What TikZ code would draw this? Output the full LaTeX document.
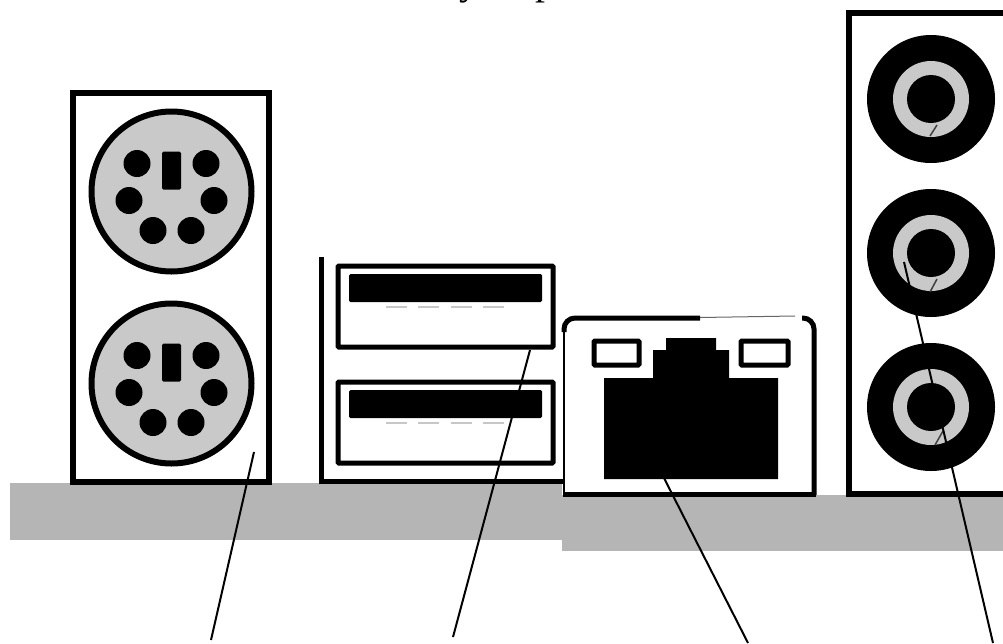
\documentclass[tikz,border=0pt]{standalone}
\usepackage{fontspec}
\setmainfont{Liberation Serif}
\definecolor{ringgray}{gray}{0.79}
\definecolor{bargray}{gray}{0.71}
\tikzset{
  frame/.style={draw=black,line width=5.5pt,fill=white},
  thinframe/.style={draw=black,line width=5pt,fill=white},
  ps2body/.style={circle,draw=black,line width=6pt,fill=ringgray,minimum size=160pt,inner sep=0pt},
  pin/.style={circle,fill=black,minimum size=27pt,inner sep=0pt},
  keybar/.style={fill=black,rounded corners=1.5pt},
  jackouter/.style={circle,fill=black,minimum size=128pt,inner sep=0pt},
  jackring/.style={circle,fill=ringgray,minimum size=76pt,inner sep=0pt},
  jackcore/.style={circle,fill=black,minimum size=48pt,inner sep=0pt},
  leader/.style={draw=black,line width=2pt},
  nick/.style={draw=black!75,line width=1.5pt},
  contact/.style={draw=black!22,line width=2.5pt},
  cut/.style={inner sep=0pt,anchor=base,font=\fontsize{40pt}{40pt}\selectfont}
}
\newcommand{\pstwo}[2]{%
  \node[ps2body] (#1) at (171.5,#2) {};
  \fill[keybar] (162,#2-40) rectangle (181,#2-2);
  \node[pin] (#1a) at (137,#2-28) {};
  \node[pin] (#1b) at (206,#2-28) {};
  \node[pin] (#1c) at (129,#2+9) {};
  \node[pin] (#1d) at (214,#2+9) {};
  \node[pin] (#1e) at (153,#2+39) {};
  \node[pin] (#1f) at (191,#2+39) {};
}
\newcommand{\usbport}[1]{%
  \draw[thinframe,rounded corners=1pt] (338,#1) rectangle (553,#1+81);
  \fill[keybar] (349,#1+8) rectangle (542,#1+36);
  \foreach \cx in {386,418,451,483}{\draw[contact] (\cx,#1+41) -- ++(21,0);}
}
\newcommand{\jack}[2]{%
  \node[jackouter] (#1) at (931,#2) {};
  \node[jackring] at (931,#2) {};
  \node[jackcore] at (931,#2) {};
}
\begin{document}
\begin{tikzpicture}[x=1pt,y=-1pt]
\useasboundingbox (0,0) rectangle (1003,643);
\clip (0,0) rectangle (1003,643);
\fill[white] (0,0) rectangle (1003,643);
% clipped caption letters
\node[cut] (capY) at (469,-6) {y};
\node[cut] (capP) at (545,-6) {p};
% shelf
\fill[bargray] (10,483) rectangle (562,540);
\fill[bargray] (562,495) rectangle (1003,551);
% PS/2 panel
\draw[frame] (73,93) rectangle (269,482);
\pstwo{kbd}{191.5}
\pstwo{mouse}{383.5}
% USB panel
\draw[black,line width=5pt] (321,257) -- (321,481) -- (563,481);
\usbport{266}
\usbport{382}
% RJ45
\fill[white,rounded corners=12pt] (564,495) -- (564,318) -- (814,318) -- (814,495) -- cycle;
\draw[black,line width=2.5pt] (564,495) -- (564,332);
\draw[black,line width=5pt,rounded corners=11pt] (564,332) -- (564,318) -- (700,318);
\draw[black!60,line width=1pt] (700,317.5) -- (795,316);
\draw[black,line width=5pt,rounded corners=11pt] (802,318) -- (814,318) -- (814,495);
\draw[black,line width=5pt] (563,494) -- (816,494);
\draw[thinframe,rounded corners=1pt] (594,341) rectangle (639,365);
\draw[thinframe,rounded corners=1pt] (741,341) rectangle (788,365);
\fill[black] (604,378) -- (653,378) -- (653,350) -- (666,350) -- (666,338) -- (716,338) -- (716,350) -- (729,350) -- (729,378) -- (778,378) -- (778,479) -- (604,479) -- cycle;
% audio panel
\draw[frame] (849,13) rectangle (1010,494);
\jack{jackA}{99}
\jack{jackB}{253}
\jack{jackC}{407}
\draw[nick] (937,125) -- (930,136);
\draw[nick] (937,279) -- (930,292);
\draw[nick] (943,431) -- (935,445);
% leader lines
\coordinate (l1a) at (254,452); \coordinate (l1b) at (211,640);
\coordinate (l2a) at (530,350); \coordinate (l2b) at (453,637);
\coordinate (l3a) at (664,478); \coordinate (l3b) at (748,643);
\coordinate (l4a) at (904,262); \coordinate (l4b) at (993,643);
\draw[leader] (l1a) -- (l1b);
\draw[leader] (l2a) -- (l2b);
\draw[leader] (l3a) -- (l3b);
\draw[leader] (l4a) -- (l4b);
\end{tikzpicture}
\end{document}
